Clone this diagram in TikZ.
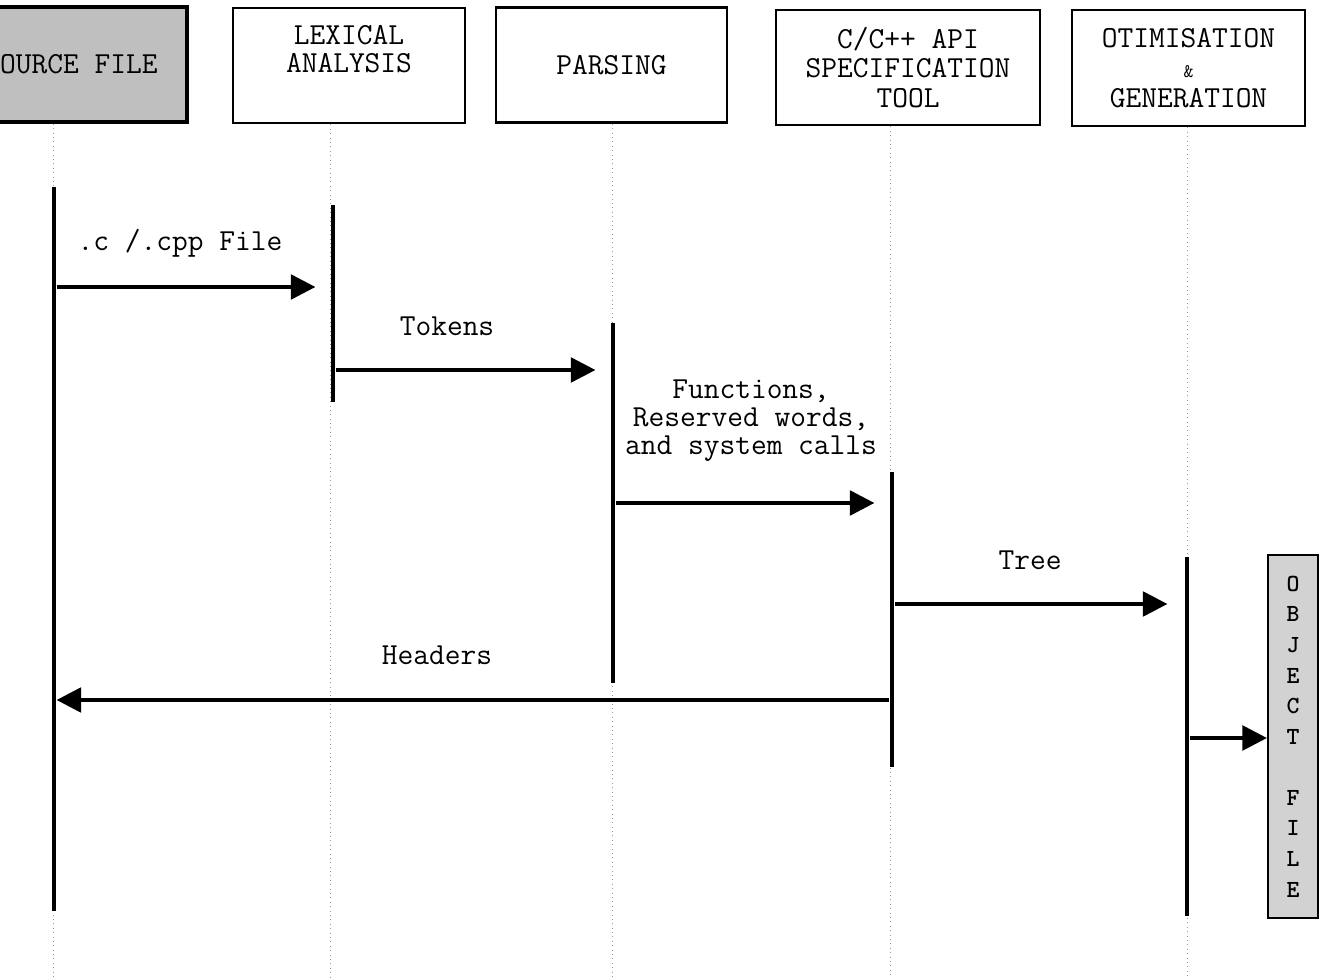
\documentclass[tikz,border=0pt]{standalone}
\usepackage{fontspec}
\usetikzlibrary{arrows.meta}

\begin{document}
\begin{tikzpicture}[
  x=0.02cm, y=-0.02cm,
  font=\ttfamily\fontsize{17.4}{16}\selectfont,
  actor/.style={draw, line width=1.6pt, minimum width=4.64cm,
                minimum height=2.3cm, align=center, inner sep=0pt},
  shaded/.style={fill=gray!50},
  lifeline/.style={dotted, line width=0.5pt, gray!80},
  bar/.style={fill=black, inner sep=0pt, minimum width=0.09cm},
  msg/.style={line width=2.2pt, -{Triangle[length=14pt, width=14pt]}},
]
\useasboundingbox (0,0) rectangle (1321,979);
\clip (0,0) rectangle (1321,979);

% participants
\node[actor, shaded, line width=2.2pt] (src) at (71,64.5) {SOURCE FILE};
\node[actor] (lex) at (349,65.5) {LEXICAL\\ANALYSIS\\[3pt]};
\node[actor, minimum width=4.62cm] (pars) at (611.5,65) {PARSING};
\node[actor, minimum width=5.28cm] (api) at (908,67.5)
  {C/C++ API\\[1pt]SPECIFICATION\\[1pt]TOOL};
\node[actor, minimum width=4.66cm, minimum height=2.32cm] (opt) at (1188.5,68)
  {OTIMISATION\\[1pt]{\fontsize{11}{11}\selectfont\&}\\[1pt]GENERATION};
\node[actor, shaded, fill=gray!35, line width=1.2pt, minimum width=1cm,
      minimum height=7.26cm, font=\ttfamily\bfseries\fontsize{14}{17.4}\selectfont]
  (obj) at (1293,736.5) {O\\B\\J\\E\\C\\T\\ \\F\\I\\L\\E};

% lifelines
\coordinate (srcL) at (53,979);
\coordinate (lexL) at (330,979);
\coordinate (parsL) at (612,979);
\coordinate (apiL) at (890,979);
\coordinate (optL) at (1187,979);
\draw[lifeline] (src.south -| srcL) -- (srcL);
\draw[lifeline] (lex.south -| lexL) -- (lexL);
\draw[lifeline] (pars.south -| parsL) -- (parsL);
\draw[lifeline] (api.south -| apiL) -- (apiL);
\draw[lifeline] (opt.south -| optL) -- (optL);

% activations
\node[bar, minimum height=14.48cm] (srcbar) at (54,549) {};
\node[bar, minimum height=3.94cm] (lexbar) at (333,303.5) {};
\node[bar, minimum height=7.2cm] (parsbar) at (613,503) {};
\node[bar, minimum height=5.9cm] (apibar) at (892,619.5) {};
\node[bar, minimum height=7.18cm] (optbar) at (1187,736.5) {};

% messages
\draw[msg, shorten >=0.3cm] (srcbar.east |- 0,287) -- (lexbar.west |- 0,287);
\node (m1) at (180,243) {.c /.cpp File};
\draw[msg, shorten >=0.3cm] (lexbar.east |- 0,370) -- (parsbar.west |- 0,370);
\node (m2) at (447,326) {Tokens};
\draw[msg, shorten >=0.3cm] (parsbar.east |- 0,503) -- (apibar.west |- 0,503);
\node[align=center] (m3) at (751,421)
  {Functions,\\Reserved words,\\and system calls};
\draw[msg, shorten >=0.34cm] (apibar.east |- 0,604) -- (optbar.west |- 0,604);
\node (m4) at (1030,560) {Tree};
\draw[msg] (apibar.west |- 0,700) -- (srcbar.east |- 0,700);
\node (m5) at (437,655) {Headers};
\draw[msg] (optbar.east |- 0,738) -- (obj.west |- 0,738);

\end{tikzpicture}
\end{document}
